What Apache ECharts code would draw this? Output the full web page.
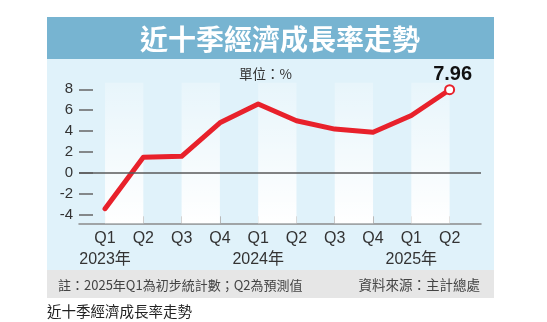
<!DOCTYPE html>
<html>
<head>
<meta charset="utf-8">
<script src="https://cdn.jsdelivr.net/npm/echarts@6/dist/echarts.min.js"></script>
<style>
  html, body { margin: 0; padding: 0; background: #ffffff; }
  #chart { width: 547px; height: 322px; }
</style>
</head>
<body>
<div id="chart"></div>
<script>
// Quarterly GDP growth, 2023 Q1 – 2025 Q2 (%)
const quarters = ['Q1', 'Q2', 'Q3', 'Q4', 'Q1', 'Q2', 'Q3', 'Q4', 'Q1', 'Q2'];
const years = ['2023年', '', '', '', '2024年', '', '', '', '2025年', ''];
const growth = [-3.4, 1.5, 1.6, 4.8, 6.6, 5.0, 4.2, 3.9, 5.5, 7.96];
const yTicks = [-4, -2, 0, 2, 4, 6, 8];

const titleText = '近十季經濟成長率走勢';
const unitText = '單位：%';
const noteText = '註：2025年Q1為初步統計數；Q2為預測值';
const sourceText = '資料來源：主計總處';
const captionText = '近十季經濟成長率走勢';

const RED = '#e8212b';
const CJK = '"Noto Sans CJK TC", "Noto Sans", sans-serif';
const LATIN = '"Liberation Sans", Arial, "Noto Sans CJK TC", sans-serif';

const idx = quarters.map((_, i) => i);
const last = growth.length - 1;

// alternating pale column bands between quarter ticks
const bands = [];
for (let i = 0; i + 1 < quarters.length; i += 2) {
  bands.push([{ xAxis: i }, { xAxis: i + 1 }]);
}

const chart = echarts.init(document.getElementById('chart'), null, { renderer: 'canvas' });

chart.setOption({
  animation: false,
  backgroundColor: '#ffffff',
  grid: { left: 79, right: 66, top: 82.7, bottom: 98.7, containLabel: false },
  xAxis: {
    type: 'value',
    min: -0.68,
    max: 9.82,
    axisLine: { onZero: false, lineStyle: { color: '#8a8a8a', width: 1.5 } },
    axisTick: { show: true, inside: true, length: 7, customValues: idx, lineStyle: { color: '#b8b8b8', width: 1 } },
    axisLabel: {
      customValues: idx,
      margin: 5,
      fontFamily: LATIN,
      fontSize: 16,
      lineHeight: 21,
      color: '#333333',
      formatter: v => years[v] ? quarters[v] + '\n' + years[v] : quarters[v]
    },
    splitLine: { show: false }
  },
  yAxis: {
    type: 'value',
    min: -4.8,
    max: 8.63,
    axisLine: { show: false, onZero: false },
    axisTick: { show: true, inside: true, length: 14, customValues: yTicks, lineStyle: { color: '#666666', width: 1.5 } },
    axisLabel: { customValues: yTicks, margin: 6, fontFamily: LATIN, fontSize: 15, color: '#333333' },
    splitLine: { show: false }
  },
  graphic: [
    { type: 'rect', z: -10, shape: { x: 47, y: 17, width: 447, height: 253 }, style: { fill: '#e0f2fa' } },
    { type: 'rect', z: -9, shape: { x: 47, y: 17, width: 447, height: 42 }, style: { fill: '#77b4d1' } },
    { type: 'rect', z: -9, shape: { x: 47, y: 270, width: 447, height: 28 }, style: { fill: '#e6e6e6' } },
    { type: 'text', z: 10, x: 280, y: 39, style: { text: titleText, fill: '#ffffff', font: 'bold 28px ' + CJK, textAlign: 'center', textVerticalAlign: 'middle' } },
    { type: 'text', z: 10, x: 239, y: 74, style: { text: unitText, fill: '#333333', font: '13.5px ' + CJK, textAlign: 'left', textVerticalAlign: 'middle' } },
    { type: 'text', z: 10, x: 58, y: 285, style: { text: noteText, fill: '#444444', font: '13px ' + CJK, textAlign: 'left', textVerticalAlign: 'middle' } },
    { type: 'text', z: 10, x: 480, y: 285, style: { text: sourceText, fill: '#444444', font: '13.5px ' + CJK, textAlign: 'right', textVerticalAlign: 'middle' } },
    { type: 'text', z: 10, x: 47, y: 311, style: { text: captionText, fill: '#222222', font: '14.5px ' + CJK, textAlign: 'left', textVerticalAlign: 'middle' } }
  ],
  series: [
    {
      // background bands and zero reference line
      type: 'line',
      z: 1,
      data: [],
      silent: true,
      markArea: {
        silent: true,
        itemStyle: {
          color: new echarts.graphic.LinearGradient(0, 0, 0, 1, [
            { offset: 0, color: 'rgba(255,255,255,0.25)' },
            { offset: 1, color: 'rgba(255,255,255,1)' }
          ])
        },
        data: bands
      },
      markLine: {
        silent: true,
        symbol: ['none', 'none'],
        label: { show: false },
        lineStyle: { color: '#5a5a5a', width: 1.5, type: 'solid' },
        data: [{ yAxis: 0 }]
      }
    },
    {
      type: 'line',
      z: 3,
      data: growth.map((v, i) => [i, v]),
      symbol: 'none',
      lineStyle: { color: RED, width: 5, cap: 'round', join: 'round' }
    },
    {
      type: 'scatter',
      z: 4,
      data: [[last, growth[last]]],
      symbol: 'circle',
      symbolSize: 9,
      itemStyle: { color: '#ffffff', borderColor: RED, borderWidth: 2, opacity: 1 },
      label: {
        show: true,
        position: 'top',
        distance: 0,
        offset: [3, 0],
        formatter: p => p.value[1].toFixed(2),
        fontFamily: LATIN,
        fontWeight: 'bold',
        fontSize: 20,
        color: '#111111'
      }
    }
  ]
});
</script>
</body>
</html>
